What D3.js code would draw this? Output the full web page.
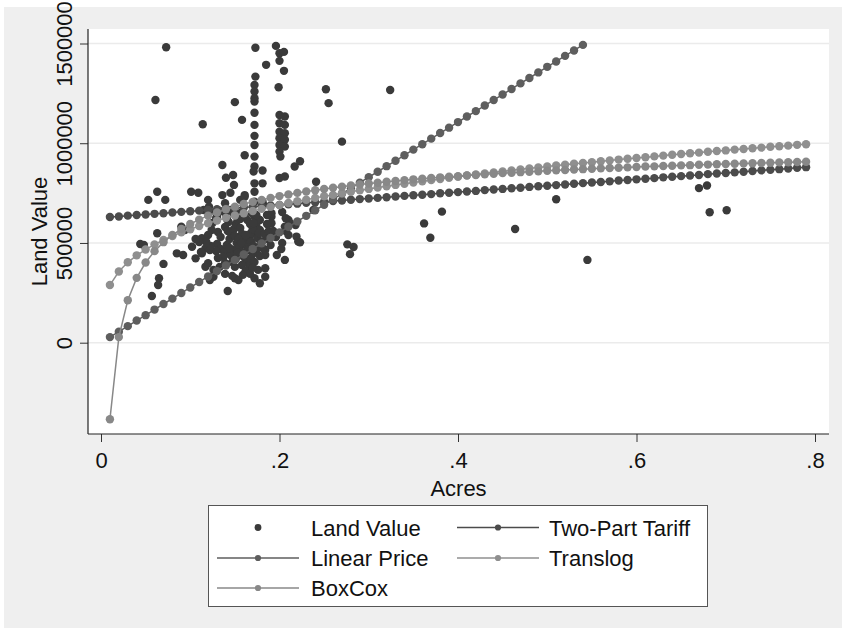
<!DOCTYPE html>
<html>
<head>
<meta charset="utf-8">
<title>Land Value by Acres</title>
<script src="https://cdn.jsdelivr.net/npm/d3@7/dist/d3.min.js"></script>
<style>
  body { margin: 0; background: #fff; }
  svg text { font-family: 'Liberation Sans', Arial, sans-serif; font-size: 22px; fill: #111; }
</style>
</head>
<body>
<svg id="chart" width="846" height="635"></svg>
<script>
// values in $1000
var acres = [
  0.01, 0.02, 0.03, 0.04, 0.05, 0.06, 0.07, 0.08, 0.09, 0.10,
  0.11, 0.12, 0.13, 0.14, 0.15, 0.16, 0.17, 0.18, 0.19, 0.20,
  0.21, 0.22, 0.23, 0.24, 0.25, 0.26, 0.27, 0.28, 0.29, 0.30,
  0.31, 0.32, 0.33, 0.34, 0.35, 0.36, 0.37, 0.38, 0.39, 0.40,
  0.41, 0.42, 0.43, 0.44, 0.45, 0.46, 0.47, 0.48, 0.49, 0.50,
  0.51, 0.52, 0.53, 0.54, 0.55, 0.56, 0.57, 0.58, 0.59, 0.60,
  0.61, 0.62, 0.63, 0.64, 0.65, 0.66, 0.67, 0.68, 0.69, 0.70,
  0.71, 0.72, 0.73, 0.74, 0.75, 0.76, 0.77, 0.78, 0.79];

var twoPart = [
  630, 633, 637, 640, 643, 646, 649, 653, 656, 659,
  662, 665, 669, 672, 675, 678, 681, 685, 688, 691,
  694, 697, 701, 704, 707, 710, 713, 717, 720, 723,
  726, 729, 733, 736, 739, 742, 745, 749, 752, 755,
  758, 761, 765, 768, 771, 774, 777, 781, 784, 787,
  790, 793, 797, 800, 803, 806, 809, 813, 816, 819,
  822, 825, 829, 832, 835, 838, 841, 845, 848, 851,
  854, 857, 861, 864, 867, 870, 873, 877, 880];

var linearPrice = [
  28, 55, 83, 111, 138, 166, 194, 221, 249, 277,
  304, 332, 359, 387, 415, 442, 470, 498, 525, 553,
  581, 608, 636, 664, 691, 719, 747, 774, 802, 830,
  857, 885, 912, 940, 968, 995, 1023, 1051, 1078, 1106,
  1134, 1161, 1189, 1217, 1244, 1272, 1300, 1327, 1355, 1383,
  1410, 1438, 1465, 1493];

var translog = [
  289, 357, 403, 438, 467, 493, 515, 535, 553, 569,
  585, 599, 613, 626, 638, 649, 660, 671, 681, 690,
  700, 709, 717, 726, 734, 741, 749, 757, 764, 771,
  778, 784, 791, 797, 803, 809, 815, 821, 827, 832,
  838, 843, 849, 854, 859, 864, 869, 874, 878, 883,
  888, 892, 897, 901, 905, 910, 914, 918, 922, 926,
  930, 934, 938, 942, 946, 950, 953, 957, 961, 964,
  968, 971, 975, 978, 982, 985, 988, 992, 995];

var boxCox = [
  -384, 28, 213, 325, 402, 459, 504, 540, 570, 595,
  617, 637, 653, 669, 682, 695, 706, 716, 726, 735,
  743, 751, 758, 764, 771, 777, 782, 788, 793, 798,
  802, 807, 811, 815, 819, 822, 826, 829, 832, 835,
  839, 841, 844, 847, 850, 852, 855, 857, 859, 862,
  864, 866, 868, 870, 872, 874, 876, 877, 879, 881,
  883, 884, 886, 887, 889, 890, 892, 893, 895, 896,
  897, 899, 900, 901, 902, 904, 905, 906, 907];

// [acres, land value]
var landValue = [
  [0.073,1481],[0.061,1217],[0.114,1095],[0.173,1479],[0.196,1488],[0.200,1451],[0.205,1458],
  [0.185,1393],[0.200,1413],[0.205,1363],[0.173,1334],[0.172,1292],[0.172,1259],[0.172,1226],
  [0.172,1209],[0.199,1281],[0.150,1206],[0.158,1117],[0.172,1153],[0.172,1092],[0.172,1037],
  [0.172,991],[0.200,1142],[0.206,1134],[0.200,1100],[0.206,1092],[0.200,1058],[0.206,1050],
  [0.200,1025],[0.206,1017],[0.200,991],[0.206,983],[0.200,958],[0.201,933],[0.161,940],
  [0.172,933],[0.172,883],[0.171,858],[0.181,863],[0.136,891],[0.140,827],[0.148,841],
  [0.149,791],[0.200,826],[0.206,833],[0.217,883],[0.223,910],[0.241,807],[0.252,1271],
  [0.255,1201],[0.270,1008],[0.324,1267],[0.063,757],[0.101,757],[0.109,752],[0.136,740],
  [0.145,752],[0.161,740],[0.172,799],[0.181,799],[0.172,757],[0.053,716],[0.072,716],
  [0.120,716],[0.156,716],[0.161,732],[0.172,707],[0.181,707],[0.139,699],[0.121,682],
  [0.148,649],[0.122,657],[0.115,665],[0.172,632],[0.178,615],[0.174,590],[0.178,565],
  [0.172,549],[0.191,632],[0.191,599],[0.210,615],[0.212,599],[0.206,582],[0.219,532],
  [0.221,507],[0.206,415],[0.184,465],[0.184,440],[0.180,507],[0.176,365],[0.184,373],
  [0.184,331],[0.178,298],[0.172,323],[0.142,259],[0.150,323],[0.154,314],[0.126,331],
  [0.122,314],[0.117,381],[0.063,549],[0.044,495],[0.048,490],[0.070,395],[0.065,323],
  [0.064,289],[0.057,234],[0.085,448],[0.092,440],[0.102,481],[0.106,423],[0.113,524],
  [0.117,473],[0.122,465],[0.113,448],[0.120,398],[0.126,365],[0.124,331],[0.090,582],
  [0.094,565],[0.139,649],[0.130,632],[0.382,657],[0.362,598],[0.369,526],[0.276,493],
  [0.283,480],[0.279,444],[0.464,570],[0.510,719],[0.545,415],[0.670,775],[0.679,788],
  [0.682,654],[0.701,664],[0.223,503],[0.238,665],[0.191,649],[0.207,624],[0.218,590],
  [0.125,600],[0.131,555],[0.134,530],[0.130,495],[0.134,470],
  [0.138,455],[0.141,490],[0.144,520],[0.146,545],[0.149,570],[0.151,595],[0.153,615],
  [0.156,575],[0.158,545],[0.160,515],[0.162,490],[0.164,465],[0.148,465],[0.145,440],
  [0.137,430],[0.129,460],[0.123,485],[0.152,500],
  [0.155,480],[0.157,455],[0.160,430],[0.163,410],[0.166,390],[0.151,420],[0.147,405],
  [0.139,400],[0.131,425],[0.166,525],[0.168,550],
  [0.170,570],[0.167,595],[0.164,615],[0.161,635],[0.158,655],[0.152,645],
  [0.143,605],[0.139,580],[0.142,560],[0.150,535],[0.154,520],
  [0.157,500],[0.168,505],[0.171,485],[0.174,465],[0.170,445],[0.168,425],[0.172,405],
  [0.175,525],[0.177,550],[0.179,500],[0.181,475],[0.178,435],[0.183,545],[0.186,595],
  [0.188,560],[0.187,520],[0.190,490],[0.176,620],[0.169,650],
  [0.141,620],[0.133,660],[0.129,625],[0.124,565],[0.120,540],
  [0.118,505],[0.112,455],[0.110,505],[0.106,520],[0.144,475],
  [0.153,450],[0.162,540],[0.171,600],[0.174,640],
  [0.182,690],[0.156,620],[0.145,665],
  [0.150,380],[0.158,390],[0.162,360],[0.167,345],[0.170,375],
  [0.139,345],[0.133,380],[0.159,340],[0.147,335],
  [0.186,640],[0.193,560],[0.196,530],
  [0.203,655],[0.207,560],[0.203,500],[0.210,540],[0.202,470],
  [0.197,440]];

var xTicks = [0, 0.2, 0.4, 0.6, 0.8];
var xTickLabels = ['0', '.2', '.4', '.6', '.8'];
var yTicks = [0, 500, 1000, 1500];
var yTickLabels = ['0', '500000', '1000000', '1500000'];

var series = [
  { name: 'Two-Part Tariff', values: twoPart, color: '#4b4b4b' },
  { name: 'Linear Price', values: linearPrice, color: '#5e5e5e' },
  { name: 'Translog', values: translog, color: '#8f8f8f' },
  { name: 'BoxCox', values: boxCox, color: '#888888' }
];

var svg = d3.select('#chart'),
  plot = { left: 88, top: 29, right: 829, bottom: 434 };

svg.append('rect').attr('width', 846).attr('height', 635).attr('fill', '#fff');
svg.append('rect').attr('x', 4).attr('y', 7).attr('width', 838).attr('height', 621).attr('fill', '#efefef');
svg.append('rect')
  .attr('x', plot.left).attr('y', plot.top)
  .attr('width', plot.right - plot.left).attr('height', plot.bottom - plot.top)
  .attr('fill', '#fff');

var x = d3.scaleLinear().domain([0, 0.8]).range([101, 815]);
var y = d3.scaleLinear().domain([0, 1500]).range([342.7, 43.5]);

// gridlines
svg.append('g').selectAll('line')
  .data(yTicks)
  .join('line')
  .attr('x1', plot.left).attr('x2', plot.right)
  .attr('y1', d => y(d)).attr('y2', d => y(d))
  .attr('stroke', '#ebebeb')
  .attr('stroke-width', 1.6);

// land value scatter
svg.append('g').selectAll('circle')
  .data(landValue)
  .join('circle')
  .attr('cx', d => x(d[0]))
  .attr('cy', d => y(d[1]))
  .attr('r', 4.2)
  .attr('fill', '#3a3a3a');

// fitted series
var line = d3.line()
  .x((d, i) => x(acres[i]))
  .y(d => y(d));

series.forEach(s => {
  var g = svg.append('g');
  g.append('path')
    .datum(s.values)
    .attr('fill', 'none')
    .attr('stroke', s.color)
    .attr('stroke-width', 1.5)
    .attr('d', line);
  g.selectAll('circle')
    .data(s.values)
    .join('circle')
    .attr('cx', (d, i) => x(acres[i]))
    .attr('cy', d => y(d))
    .attr('r', 4.2)
    .attr('fill', s.color);
});

// axes
var xAxis = svg.append('g')
  .attr('transform', 'translate(0,' + plot.bottom + ')')
  .call(d3.axisBottom(x).tickValues(xTicks).tickFormat((d, i) => xTickLabels[i]).tickSize(8));
xAxis.select('.domain').remove();
xAxis.selectAll('line').attr('stroke', '#333');
xAxis.selectAll('text').attr('y', 34).attr('dy', 0);

var yAxis = svg.append('g')
  .attr('transform', 'translate(' + plot.left + ',0)')
  .call(d3.axisLeft(y).tickValues(yTicks).tickFormat((d, i) => yTickLabels[i]).tickSize(8));
yAxis.select('.domain').remove();
yAxis.selectAll('line').attr('stroke', '#333');
yAxis.selectAll('text')
  .attr('transform', 'rotate(-90)')
  .attr('x', 0).attr('y', -16).attr('dy', 0)
  .attr('text-anchor', 'middle');

svg.append('line')
  .attr('x1', plot.left).attr('x2', plot.left)
  .attr('y1', plot.top).attr('y2', plot.bottom)
  .attr('stroke', '#222').attr('stroke-width', 1.2);
svg.append('line')
  .attr('x1', plot.left).attr('x2', plot.right)
  .attr('y1', plot.bottom).attr('y2', plot.bottom)
  .attr('stroke', '#222').attr('stroke-width', 1.2);

svg.append('text')
  .attr('x', (plot.left + plot.right) / 2).attr('y', 496)
  .attr('text-anchor', 'middle')
  .text('Acres');
svg.append('text')
  .attr('transform', 'translate(47,' + (plot.top + plot.bottom) / 2 + ') rotate(-90)')
  .attr('text-anchor', 'middle')
  .text('Land Value');

// legend
var legend = svg.append('g');
legend.append('rect')
  .attr('x', 208.5).attr('y', 505.5).attr('width', 499).attr('height', 101)
  .attr('fill', '#fff').attr('stroke', '#555');

var legendItems = [{ name: 'Land Value', color: '#3a3a3a', dotOnly: true }].concat(series);
var colX = [258, 498], textX = [311, 549], rowY = [527.5, 558, 588];

legendItems.forEach((d, i) => {
  var cx = colX[i % 2], cy = rowY[Math.floor(i / 2)];
  if (!d.dotOnly) {
    legend.append('line')
      .attr('x1', cx - 41).attr('x2', cx + 41)
      .attr('y1', cy).attr('y2', cy)
      .attr('stroke', d.color).attr('stroke-width', 1.5);
  }
  legend.append('circle')
    .attr('cx', cx).attr('cy', cy)
    .attr('r', d.dotOnly ? 3.4 : 3.1)
    .attr('fill', d.color);
  legend.append('text')
    .attr('x', textX[i % 2]).attr('y', cy + 8)
    .text(d.name);
});
</script>
</body>
</html>
